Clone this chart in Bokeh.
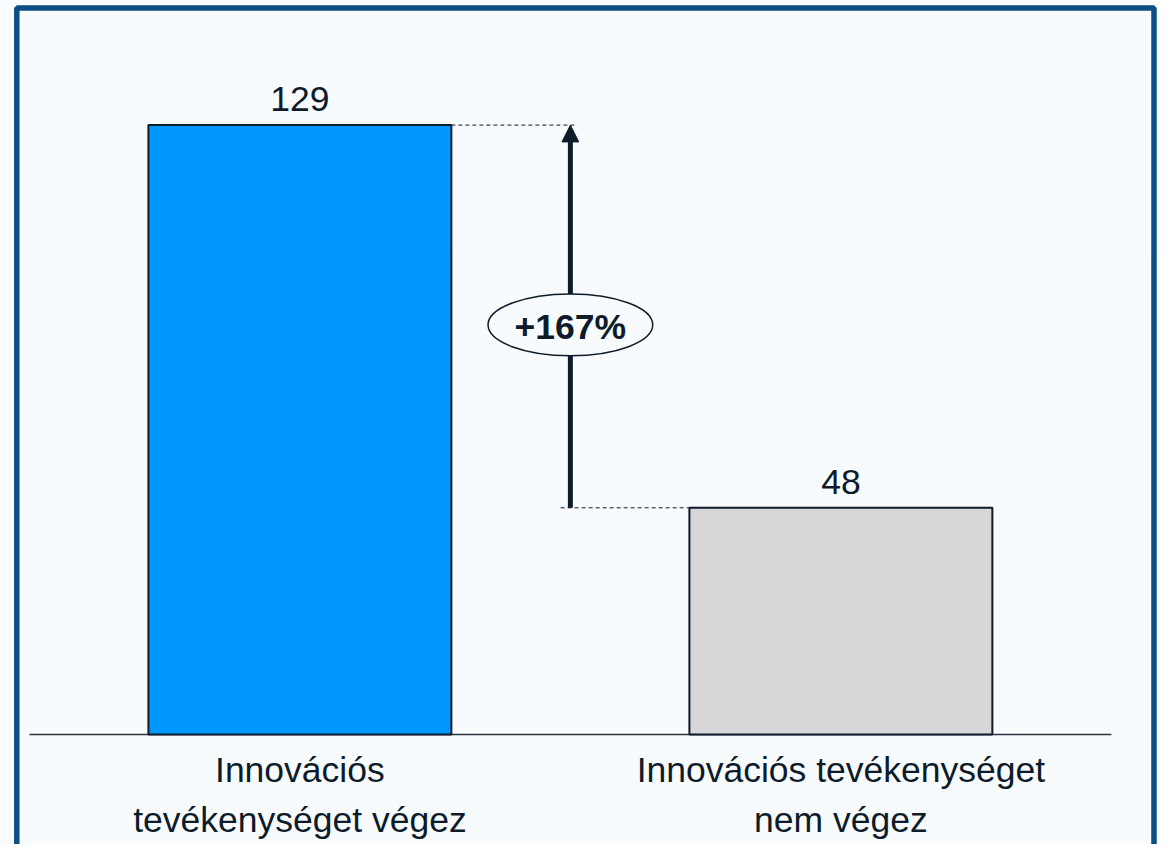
from bokeh.plotting import figure
from bokeh.models import Range1d, Arrow, NormalHead, ColumnDataSource, BoxAnnotation
from bokeh.core.properties import value
from bokeh.embed import file_html
from bokeh.resources import INLINE

# ---- data ----
categories = ["Innovációs\ntevékenységet végez", "Innovációs tevékenységet\nnem végez"]
values = [129, 48]
value_labels = ["129", "48"]
bar_colors = ["#0097FF", "#D7D7D9"]
change_label = "+167%"

# ---- style ----
BG = "#F7FBFE"
INK = "#0D1B2A"
BORDER = "#0B4F82"
FONT = "Liberation Sans"
FS = "35.5px"
BAR_W = 0.56
W, H = 1158, 844

xs = [i + 0.5 for i in range(len(categories))]

p = figure(width=W, height=H, output_backend="svg", toolbar_location=None,
           x_range=Range1d(-0.0534, 2.0871), y_range=Range1d(-23.26, 155.37),
           min_border_left=0, min_border_right=0, min_border_top=0, min_border_bottom=0,
           background_fill_color=BG, border_fill_color=BG)
p.axis.visible = False
p.grid.visible = False
p.outline_line_color = None

# frame border (open at the bottom, as in the original slide crop)
p.add_layout(BoxAnnotation(left=16.3, right=1153.5, top=H - 7.4, bottom=-60,
                           left_units="screen", right_units="screen",
                           top_units="screen", bottom_units="screen",
                           fill_color=None, fill_alpha=0, line_color=BORDER,
                           line_alpha=1.0, line_width=5.5))

src = ColumnDataSource(dict(x=xs, top=values, color=bar_colors, lab=value_labels, cat=categories))

# baseline
p.segment(x0=[0], x1=[len(categories)], y0=[0], y1=[0], line_color="#2A3440", line_width=1.5)

# bars
p.vbar(x="x", top="top", bottom=0, width=BAR_W, fill_color="color", line_color=INK,
       line_width=2, source=src)

# value labels
p.text(x="x", y="top", text="lab", source=src, text_align="center", text_baseline="alphabetic",
       y_offset=-26, text_font=value(FONT), text_font_size=FS, text_color=INK)

# category labels
p.text(x="x", y=0, text="cat", source=src, text_align="center", text_baseline="top",
       y_offset=15.7, text_font=value(FONT), text_font_size=FS, text_color=INK,
       text_line_height=1.25)

# difference annotation
mid_x = (xs[0] + xs[1]) / 2
p.segment(x0=[xs[0] + BAR_W / 2, mid_x - 0.018], x1=[mid_x + 0.012, xs[1] - BAR_W / 2],
          y0=[values[0], values[1]], y1=[values[0], values[1]],
          line_color=INK, line_width=1, line_dash="4 3")

p.add_layout(Arrow(end=NormalHead(size=16.8, fill_color=INK, line_color=INK, line_width=1),
                   x_start=mid_x, y_start=values[1], x_end=mid_x, y_end=values[0],
                   line_color=INK, line_width=5, level="underlay"))

ell_y = values[1] + (values[0] - values[1]) * 0.478
p.ellipse(x=[mid_x], y=[ell_y], width=164.7, height=61.8, width_units="screen", height_units="screen",
          fill_color=BG, line_color=INK, line_width=1.5)
p.text(x=[mid_x], y=[ell_y], text=[change_label], text_align="center", text_baseline="middle",
       y_offset=2, text_font=value(FONT), text_font_size=FS, text_font_style="bold",
       text_color=INK)

open("out.html", "w").write(file_html(p, INLINE))
